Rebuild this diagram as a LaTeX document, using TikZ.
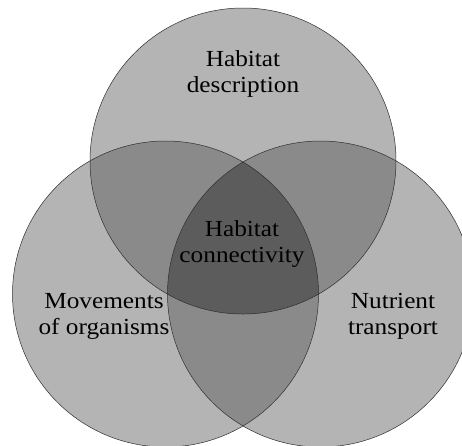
\documentclass[tikz,border=0pt]{standalone}
\usepackage{fontspec}
\newfontfamily\vennfont[FakeStretch=1.1]{Liberation Serif}
\usepackage{tikz}
\definecolor{cUm}{HTML}{B4B4B4}
\definecolor{cDois}{HTML}{8A8A8A}
\definecolor{cTres}{HTML}{5C5C5C}
\definecolor{cBorda}{HTML}{2E2E2E}
\newcommand{\circHab}{(243,161) circle [radius=153]}
\newcommand{\circMov}{(165.5,294) circle [radius=153]}
\newcommand{\circNut}{(320.5,294) circle [radius=153]}

\begin{document}
\begin{tikzpicture}[
  x=1pt,y=-1pt,
  one/.style={fill=cUm},
  two/.style={fill=cDois},
  three/.style={fill=cTres},
  rim/.style={draw=cBorda,line width=0.5pt},
  lbl/.style={align=center,inner sep=0pt,
              font=\vennfont\fontsize{23}{26}\selectfont,text=black}
]
\useasboundingbox[fill=white] (0,0) rectangle (462,445);

% ---- regioes simples
\fill[one] \circHab;
\fill[one] \circMov;
\fill[one] \circNut;

% ---- pares
\begin{scope}
  \clip \circHab;
  \fill[two] \circMov;
  \fill[two] \circNut;
\end{scope}
\begin{scope}
  \clip \circMov;
  \fill[two] \circNut;
\end{scope}

% ---- centro
\begin{scope}
  \clip \circHab;
  \clip \circMov;
  \fill[three] \circNut;
\end{scope}

% ---- contornos
\draw[rim] \circHab;
\draw[rim] \circMov;
\draw[rim] \circNut;

% ---- rotulos
\node[lbl] (desc) at (243,74)  {Habitat\\ description};
\node[lbl] (conn) at (242,244) {Habitat\\ connectivity};
\node[lbl] (mov)  at (104,316) {Movements\\ of organisms};
\node[lbl] (nut)  at (393,316) {Nutrient\\ transport};
\end{tikzpicture}
\end{document}
